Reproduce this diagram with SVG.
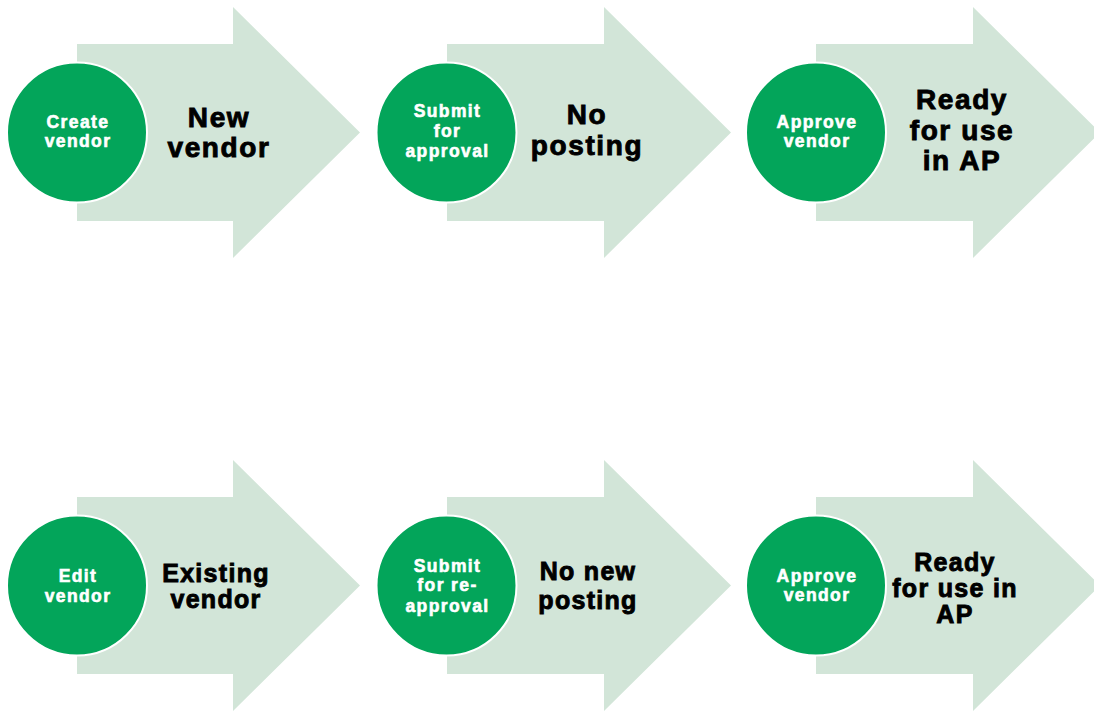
<svg xmlns="http://www.w3.org/2000/svg" width="1094" height="711" viewBox="0 0 1094 711">
<style>
.arrow{fill:#d2e5d8;}
.circ{fill:#03a55a;stroke:#ffffff;stroke-width:2;}
.ct{font-family:"Liberation Sans",Arial,sans-serif;font-weight:700;font-size:17.5px;letter-spacing:1.4px;fill:#ffffff;stroke:#ffffff;stroke-width:0.6px;text-anchor:middle;}
.at{font-family:"Liberation Sans",Arial,sans-serif;font-weight:700;font-size:28px;letter-spacing:1.6px;fill:#000000;stroke:#000000;stroke-width:0.9px;text-anchor:middle;}
.ab{font-size:25px;letter-spacing:1.3px;}
</style>
<rect width="1094" height="711" fill="#ffffff"/>
<g id="connectors"></g>
<g id="step1">
<polygon class="arrow" points="77,44 233,44 233,7 360,132.5 233,258 233,221 77,221"/>
<circle class="circ" cx="77" cy="132.5" r="70"/>
<text class="ct" x="78" y="128">Create</text>
<text class="ct" x="78" y="147">vendor</text>
<text class="at" x="219" y="127">New</text>
<text class="at" x="219" y="157">vendor</text>
</g>
<g id="step2">
<polygon class="arrow" points="447,44 604,44 604,7 731,132.5 604,258 604,221 447,221"/>
<circle class="circ" cx="446.5" cy="132.5" r="70"/>
<text class="ct" x="447.5" y="117">Submit</text>
<text class="ct" x="447.5" y="137">for</text>
<text class="ct" x="447.5" y="157">approval</text>
<text class="at" x="587" y="124">No</text>
<text class="at" x="587" y="155">posting</text>
</g>
<g id="step3">
<polygon class="arrow" points="816,44 973,44 973,7 1100,132.5 973,258 973,221 816,221"/>
<circle class="circ" cx="816" cy="132.5" r="70"/>
<text class="ct" x="817" y="128">Approve</text>
<text class="ct" x="817" y="147">vendor</text>
<text class="at" x="962" y="109">Ready</text>
<text class="at" x="962" y="140">for use</text>
<text class="at" x="962" y="170">in AP</text>
</g>
<g id="step4">
<polygon class="arrow" points="77,497 233,497 233,460 360,585.5 233,711 233,674 77,674"/>
<circle class="circ" cx="77" cy="585.5" r="70"/>
<text class="ct" x="78" y="582">Edit</text>
<text class="ct" x="78" y="602">vendor</text>
<text class="at ab" x="216" y="582">Existing</text>
<text class="at ab" x="216" y="608">vendor</text>
</g>
<g id="step5">
<polygon class="arrow" points="447,497 604,497 604,460 731,585.5 604,711 604,674 447,674"/>
<circle class="circ" cx="446.5" cy="585.5" r="70"/>
<text class="ct" x="447.5" y="572">Submit</text>
<text class="ct" x="447.5" y="591">for re-</text>
<text class="ct" x="447.5" y="612">approval</text>
<text class="at ab" x="588" y="580">No new</text>
<text class="at ab" x="588" y="609">posting</text>
</g>
<g id="step6">
<polygon class="arrow" points="816,497 973,497 973,460 1100,585.5 973,711 973,674 816,674"/>
<circle class="circ" cx="816" cy="585.5" r="70"/>
<text class="ct" x="817" y="582">Approve</text>
<text class="ct" x="817" y="601">vendor</text>
<text class="at ab" x="955" y="571">Ready</text>
<text class="at ab" x="955" y="597">for use in</text>
<text class="at ab" x="955" y="623">AP</text>
</g>
</svg>
